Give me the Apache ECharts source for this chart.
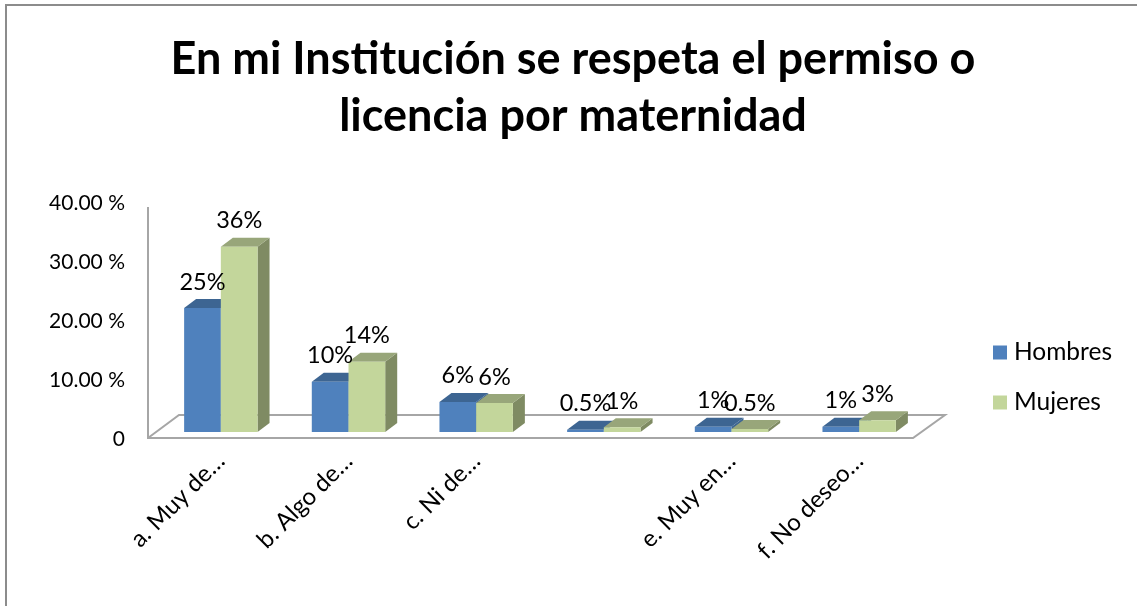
<!DOCTYPE html>
<html>
<head>
<meta charset="utf-8">
<style>
  html, body { margin: 0; padding: 0; background: #fff; }
  #chart { width: 1137px; height: 606px; }
</style>
<script src="https://cdn.jsdelivr.net/npm/echarts@6/dist/echarts.min.js"></script>
</head>
<body>
<div id="chart"></div>
<script>
// == Data ====================================================================
const title = 'En mi Institución se respeta el permiso o\nlicencia por maternidad'
const categories = ['a. Muy de…', 'b. Algo de…', 'c. Ni de…', '', 'e. Muy en…', 'f. No deseo…']
const yTicks = {0: '0', 10: '10.00 %', 20: '20.00 %', 30: '30.00 %', 40: '40.00 %'}

// bar heights read against the axis, the printed labels do not agree with them
const hombres = [21, 8.5, 5.1, 0.4, 0.9, 0.9]
const mujeres = [31.4, 11.9, 4.9, 0.8, 0.5, 2]
const hombresLabels = ['25%', '10%', '6%', '0.5%', '1%', '1%']
const mujeresLabels = ['36%', '14%', '6%', '1%', '0.5%', '3%']

// == Bars ====================================================================
const FONT = 'Lato'
const DEPTH_X = 12
const DEPTH_Y = 9
const BASE_LIFT = 7

const bar3d = (slot, labels, front, top, side) => (params, api) => {
  const i = api.value(0)
  const base = api.coord([i, 0])
  const head = api.coord([i, api.value(1)])
  const w = api.size([1, 0])[0] * 0.2875
  const x0 = base[0] + (slot - 1) * w
  const x1 = x0 + w
  const yb = base[1] - BASE_LIFT
  const yt = head[1] - BASE_LIFT
  const z2 = slot + 1
  return {
    type: 'group',
    children: [
      {type: 'polygon', z2, shape: {points: [[x1, yb], [x1 + DEPTH_X, yb - DEPTH_Y], [x1 + DEPTH_X, yt - DEPTH_Y], [x1, yt]]}, style: {fill: side}},
      {type: 'polygon', z2, shape: {points: [[x0, yt], [x1, yt], [x1 + DEPTH_X, yt - DEPTH_Y], [x0 + DEPTH_X, yt - DEPTH_Y]]}, style: {fill: top}},
      {type: 'rect', z2, shape: {x: x0, y: yt, width: w, height: yb - yt}, style: {fill: front}},
      {
        type: 'text',
        z2: 10,
        style: {
          x: (x0 + x1) / 2,
          y: yt - 26,
          text: labels[i],
          fill: '#000',
          font: '23.5px ' + FONT,
          align: 'center',
          verticalAlign: 'middle'
        }
      }
    ]
  }
}

const seriesOf = (name, values, slot, labels, front, top, side) => ({
  name,
  type: 'custom',
  coordinateSystem: 'cartesian2d',
  itemStyle: {color: front},
  encode: {x: 0, y: 1},
  data: values.map((v, i) => [i, v]),
  renderItem: bar3d(slot, labels, front, top, side),
  z: 3
})

// == Chart ===================================================================
const chart = echarts.init(document.getElementById('chart'), null, {renderer: 'canvas'})
chart.setOption({
  animation: false,
  backgroundColor: '#fff',
  textStyle: {fontFamily: FONT},
  title: {
    text: title,
    left: 568,
    top: 26,
    textAlign: 'center',
    textStyle: {fontFamily: FONT, fontSize: 45, fontWeight: 'bold', color: '#000', lineHeight: 57}
  },
  legend: {
    orient: 'vertical',
    left: 988,
    top: 335,
    itemWidth: 14,
    itemHeight: 14,
    itemGap: 25,
    icon: 'rect',
    data: ['Hombres', 'Mujeres'],
    textStyle: {fontFamily: FONT, fontSize: 24.5, color: '#000', padding: [0, 0, 0, 2]}
  },
  grid: {left: 157, right: 214, top: 203, bottom: 167},
  xAxis: {
    type: 'category',
    data: categories,
    axisLine: {show: false},
    axisTick: {show: false},
    axisLabel: {interval: 0, rotate: 45, margin: 18, fontSize: 24, color: '#000', fontFamily: FONT}
  },
  yAxis: {
    type: 'value',
    min: 0,
    max: 40,
    interval: 10,
    axisLine: {show: false},
    axisTick: {show: false},
    splitLine: {show: false},
    axisLabel: {margin: 32, fontSize: 21, color: '#000', fontFamily: FONT, formatter: v => yTicks[v]}
  },
  graphic: [
    // chart frame, open on the right
    {type: 'polyline', z: -2, silent: true, shape: {points: [[6, 606], [6, 5], [1137, 5]]}, style: {stroke: '#8c8c8c', lineWidth: 2, fill: 'none'}},
    // 3d floor and value axis wall edge
    {type: 'polyline', z: -1, silent: true, shape: {points: [[148, 207], [148, 438], [913, 438], [945, 415], [179, 415], [148, 438]]}, style: {stroke: '#a6a6a6', lineWidth: 2, fill: 'none'}}
  ],
  series: [
    seriesOf('Hombres', hombres, 0, hombresLabels, '#4f81bd', '#3d6592', '#3d6592'),
    seriesOf('Mujeres', mujeres, 1, mujeresLabels, '#c3d69b', '#98a67a', '#7f8b63')
  ]
})
</script>
</body>
</html>
